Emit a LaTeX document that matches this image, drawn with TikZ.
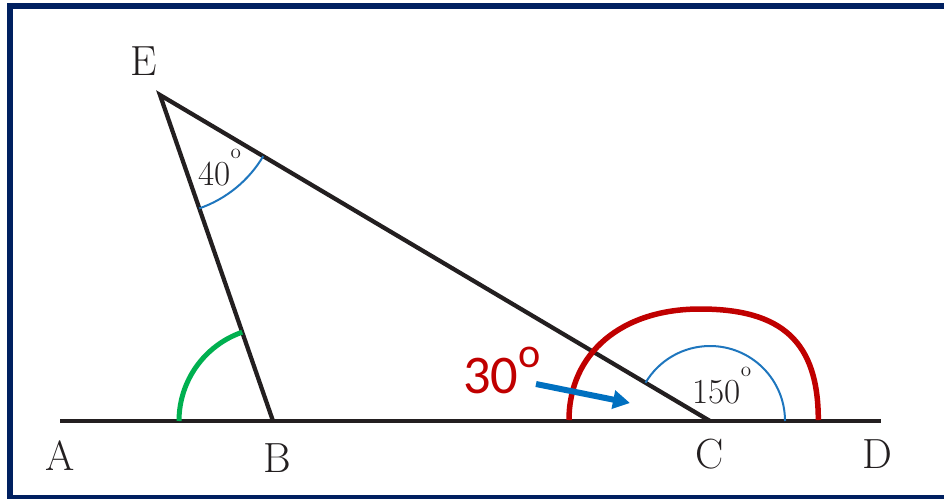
\documentclass[tikz,border=0pt]{standalone}
\usepackage{fontspec}
\newfontfamily\calfont{Carlito}
\usetikzlibrary{arrows.meta, calc}
\definecolor{mnavy}{RGB}{0,32,96}
\definecolor{mink}{RGB}{35,31,32}
\definecolor{mred}{RGB}{192,0,0}
\definecolor{mblue}{RGB}{0,112,192}
\definecolor{mgreen}{RGB}{0,176,80}
\definecolor{marc}{RGB}{30,118,190}
\newcommand{\dego}{\raisebox{15pt}{\fontsize{12}{12}\selectfont o}}

\begin{document}
\begin{tikzpicture}[x=0.2mm, y=0.2mm, font=\fontsize{24}{24}\selectfont,
  seg/.style={mink, line width=0.85mm},
  thinarc/.style={marc, line width=0.4mm},
  lbl/.style={anchor=base, inner sep=0pt, mink},
  anglbl/.style={anchor=base west, inner sep=0pt, mink, font=\fontsize{20}{20}\selectfont}]
  \useasboundingbox (0,0) rectangle (944,498);
  % Frame (open on the right)
  \begin{scope}
    \clip (0,0) rectangle (944,498);
    \draw[mnavy, line width=1.2mm] (10,0.5) rectangle (1040,492);
  \end{scope}

  % Points
  \coordinate (A) at (60,77);
  \coordinate (B) at (273,77);
  \coordinate (C) at (710,77);
  \coordinate (D) at (881,77);
  \coordinate (E) at (160,403);

  % Sides
  \draw[seg] (A) -- (D);
  \draw[seg, line join=miter] (B) -- (E) -- (C);

  % Angle marks
  \draw[mgreen, line width=1mm] ($(B)+(180:94)$) arc[start angle=180, end angle=109.1, radius=94];
  \draw[thinarc] ($(E)+(-70.9:120)$) arc[start angle=-70.9, end angle=-30.66, radius=120];
  \draw[thinarc] ($(C)+(0:75)$) arc[start angle=0, end angle=149.3, radius=75];
  \draw[mred, line width=1.1mm] (569,78) .. controls (569,144.6) and (621.4,189) .. (700,189)
    .. controls (782.6,189) and (818.3,155.7) .. (818.3,78);

  % Labels
  \foreach \p/\x/\y in {A/60/28, B/277/26, C/710/30, D/877/30, E/144/423}
    \node[lbl] (l\p) at (\x,\y) {\p};
  \node[anglbl] (a40) at (198,313) {40\dego};
  \node[anglbl] (a150) at (692,95) {150\dego};

  % Hint
  \node[anchor=base west, inner sep=0pt, mred, font=\calfont\fontsize{31}{31}\selectfont] (a30) at (463,105)
    {30\raisebox{14.5pt}{\fontsize{24}{24}\selectfont o}};
  \coordinate (h0) at (536,114);
  \coordinate (h1) at (630,95);
  \draw[mblue, line width=1.2mm, -{Triangle[length=3.4mm, width=3.6mm]}] (h0) -- (h1);
\end{tikzpicture}
\end{document}
